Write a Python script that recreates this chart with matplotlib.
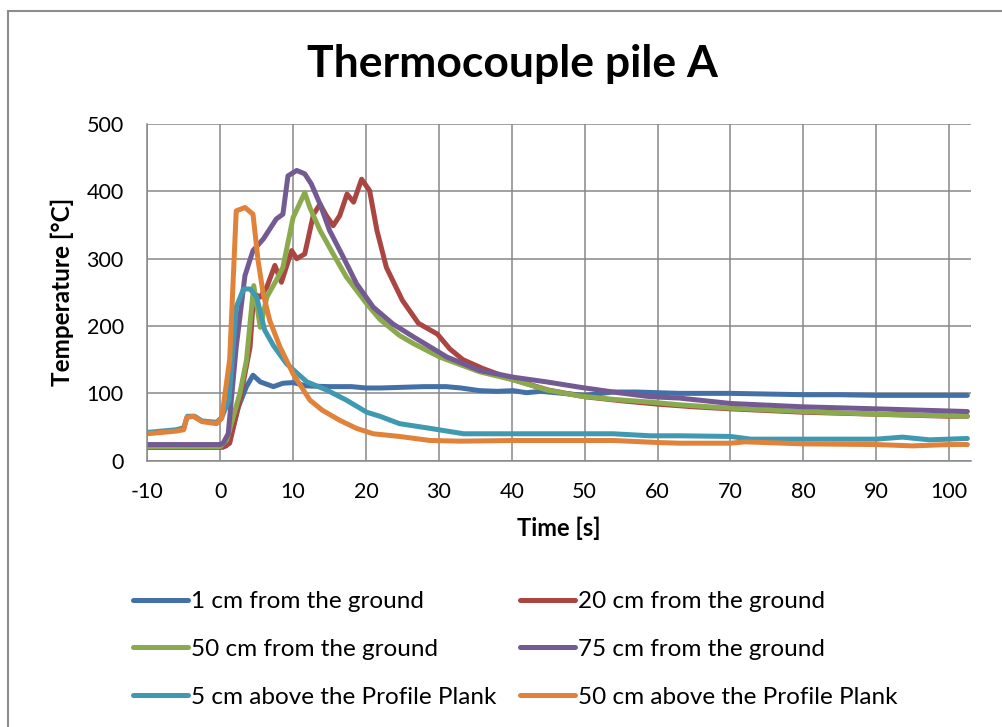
import matplotlib
matplotlib.use("Agg")
import matplotlib.pyplot as plt
from matplotlib.patches import Rectangle

plt.rcParams["font.family"] = ["Lato", "DejaVu Sans"]
plt.rcParams["axes.unicode_minus"] = False

# 1 cm from the ground
t_1cm = [-10, -5, 0, 0.8, 1.5, 2.5, 3.6, 4.5, 5.5, 7.3, 8.6, 10, 11.9, 15, 18, 20, 22, 25,
         28, 31, 33, 35.6, 38, 40.2, 42, 44, 47, 50, 53.9, 57, 60, 63, 66, 70, 75, 80, 85,
         90, 95, 100, 102.5]
y_1cm = [20, 20, 20, 22, 40, 80, 110, 127, 117, 110, 115, 116, 111, 110, 110, 108, 108, 109,
         110, 110, 108, 104, 103, 104, 101, 103, 100, 97, 102, 102, 101, 100, 100, 100, 99, 98,
         98, 97, 97, 97, 97]

# 20 cm from the ground
t_20cm = [-10, -5, 0, 0.4, 1.3, 2.7, 4.1, 4.6, 5.5, 6.4, 7.5, 8.4, 9.8, 10.5, 11.6, 12.8,
          13.7, 14.5, 15.5, 16.4, 17.4, 18.3, 19.4, 20.5, 21.5, 22.8, 25.0, 27.2, 29.8, 31.5,
          33.3, 36, 40, 45, 50, 55, 60, 65, 70, 80, 90, 100, 102.5]
y_20cm = [20, 20, 20, 20, 26, 90, 169, 248, 243, 258, 290, 265, 312, 300, 307, 366,
          381, 365, 349, 364, 396, 384, 418, 401, 342, 287, 238, 204, 188, 166,
          150, 137, 121, 105, 95, 89, 84, 80, 77, 72, 69, 66, 66]

# 50 cm from the ground
t_50cm = [-10, -5, 0, 0.9, 2.7, 3.6, 4.6, 5.5, 6.4, 7.7, 8.6, 10, 11.6, 12.3, 13.7, 15.5,
          17.3, 20.1, 21.9, 24.6, 26.5, 30.1, 35.6, 40.2, 44.8, 49.4, 54, 59, 63, 70, 80,
          90, 102.5]
y_50cm = [21, 21, 21, 31, 100, 149, 260, 198, 243, 268, 287, 361, 398, 376, 342, 307,
          273, 233, 210, 186, 174, 154, 132, 120, 105, 96, 91, 87, 83, 78, 73,
          69, 66]

# 75 cm from the ground
t_75cm = [-10, -5, 0, 0.4, 1.1, 2.2, 3.4, 4.5, 5.9, 6.8, 7.7, 8.6, 9.3, 10.5, 11.6, 12.5,
          13.7, 15, 16.9, 18.7, 21, 23.7, 26.5, 31.1, 35.6, 40.2, 44.8, 49.4, 53.9, 59,
          63, 70, 80, 90, 102.5]
y_75cm = [24, 24, 24, 26, 40, 169, 275, 312, 329, 344, 359, 366, 423, 431, 426, 411,
          381, 342, 302, 263, 228, 203, 184, 154, 134, 124, 117, 109, 102, 95,
          93, 85, 80, 77, 73]

# 5 cm above the Profile Plank
t_5plank = [-10, -6, -5, -4.5, -3.5, -2.5, -0.5, 0.2, 1.2, 2.2, 3.2, 4.1, 5, 6.1, 7.3,
            9.1, 11.9, 14.6, 17.3, 20.1, 21.9, 24.6, 28.8, 33.4, 40.2, 49.4, 53.9, 59,
            63, 70, 72.8, 80, 90, 93.6, 97.3, 102.5]
y_5plank = [42, 46, 49, 66, 66, 59, 57, 64, 90, 228, 255, 255, 243, 194, 171,
            144, 117, 105, 90, 72, 66, 55, 48, 40, 40, 40, 40, 37,
            37, 36, 32, 32, 32, 35, 31, 33]

# 50 cm above the Profile Plank
t_50plank = [-10, -6, -5, -4.6, -3.7, -2.5, -0.5, 0.2, 1.3, 2.2, 3.4, 4.5, 5.2, 5.9, 6.8,
             8.2, 10, 12.3, 14, 16.4, 18.7, 21, 24.6, 28.8, 33, 40, 50, 54, 60, 63, 70,
             72, 80, 90, 95, 100, 102.5]
y_50plank = [40, 44, 46, 64, 66, 58, 55, 63, 150, 371, 376, 366, 297, 248, 208,
             169, 129, 90, 75, 60, 48, 40, 36, 30, 29, 30, 30, 30, 27, 26, 26,
             28, 25, 24, 22, 24, 24]

series = [
    ("1 cm from the ground", t_1cm, y_1cm, "#4470A8"),
    ("20 cm from the ground", t_20cm, y_20cm, "#AA4542"),
    ("50 cm from the ground", t_50cm, y_50cm, "#8BAA4E"),
    ("75 cm from the ground", t_75cm, y_75cm, "#735A92"),
    ("5 cm above the Profile Plank", t_5plank, y_5plank, "#3F99B1"),
    ("50 cm above the Profile Plank", t_50plank, y_50plank, "#E0823A"),
]

W, H = 1003, 727
fig = plt.figure(figsize=(W / 100, H / 100), dpi=100)
fig.patches.append(Rectangle((8 / W, -0.1), 1.2, 1 - 11 / H + 0.1, transform=fig.transFigure,
                             fill=False, edgecolor="#8c8c8c", linewidth=1.5))

ax = fig.add_axes([147.3 / W, 1 - 460.7 / H, (971 - 147.3) / W, (460.7 - 124) / H])
lines = []
for name, t, y, c in series:
    ln, = ax.plot(t, y, color=c, lw=3.6, label=name,
                  solid_capstyle="round", solid_joinstyle="round")
    lines.append(ln)

ax.set_xlim(-10, 103)
ax.set_ylim(0, 500)
ax.set_xticks(range(-10, 101, 10))
ax.set_yticks(range(0, 501, 100))
ax.grid(True, color="#878787", lw=1.1)
ax.set_axisbelow(True)
for s in ("top", "right"):
    ax.spines[s].set_visible(False)
for s in ("left", "bottom"):
    ax.spines[s].set_color("#878787")
    ax.spines[s].set_linewidth(1.1)
ax.tick_params(length=0, labelsize=15.5, colors="black")
ax.tick_params(axis="y", pad=17)
ax.tick_params(axis="x", pad=15)
ax.set_xlabel("Time [s]", fontsize=17, fontweight="bold", labelpad=11)
ax.set_ylabel("Temperature [°C]", fontsize=17.5, fontweight="bold", labelpad=9)

fig.text(0.511, 1 - 64 / H, "Thermocouple pile A", ha="center", va="center",
         fontsize=32, fontweight="bold")

leg_kw = dict(frameon=False, fontsize=17.5, handlelength=2.25, handletextpad=0.15,
              labelspacing=1.1, borderpad=0, borderaxespad=0)
fig.legend([lines[0], lines[2], lines[4]], [series[0][0], series[2][0], series[4][0]],
           loc="upper left", bbox_to_anchor=(133 / W, 1 - 591 / H), **leg_kw)
fig.legend([lines[1], lines[3], lines[5]], [series[1][0], series[3][0], series[5][0]],
           loc="upper left", bbox_to_anchor=(520 / W, 1 - 591 / H), **leg_kw)

fig.savefig("out.png", dpi=100)
